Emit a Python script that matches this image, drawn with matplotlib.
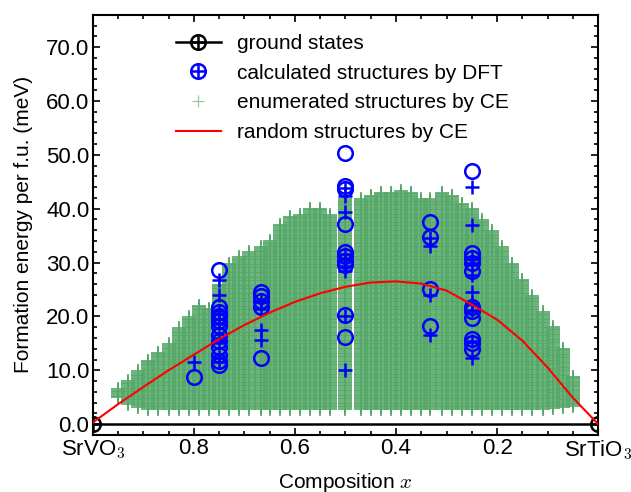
import numpy as np
import matplotlib
matplotlib.use("Agg")
import matplotlib.pyplot as plt
from matplotlib.legend_handler import HandlerTuple

plt.rcParams['font.family'] = ['Liberation Sans', 'DejaVu Sans']
plt.rcParams['mathtext.fontset'] = 'cm'
plt.rcParams['font.size'] = 15

# ground states (end members)
gs_x = [1.0, 0.0]
gs_e = [0.0, 0.0]

# DFT-calculated structures (circles) and their CE values (pluses)
dft_x = [0.8,
         0.75, 0.75, 0.75, 0.75, 0.75, 0.75, 0.75, 0.75, 0.75, 0.75, 0.75, 0.75,
         0.667, 0.667, 0.667, 0.667, 0.667,
         0.5, 0.5, 0.5, 0.5, 0.5, 0.5, 0.5, 0.5, 0.5, 0.5,
         0.333, 0.333, 0.333, 0.333,
         0.25, 0.25, 0.25, 0.25, 0.25, 0.25, 0.25, 0.25, 0.25, 0.25, 0.25]
dft_e = [8.8,
         28.7, 21.7, 20.9, 20.0, 19.2, 18.2, 16.5, 15.5, 14.3, 12.8, 11.8, 10.9,
         24.6, 23.8, 22.8, 21.8, 12.2,
         50.3, 44.3, 43.6, 37.2, 32.0, 31.2, 30.2, 29.5, 20.2, 16.2,
         37.6, 34.8, 25.1, 18.3,
         47.0, 31.8, 30.9, 29.9, 28.4, 21.8, 21.0, 19.7, 15.9, 15.0, 14.0]
fit_x = [0.8,
         0.75, 0.75, 0.75, 0.75, 0.75, 0.75, 0.75, 0.75, 0.75,
         0.667, 0.667, 0.667, 0.667,
         0.5, 0.5, 0.5, 0.5, 0.5, 0.5, 0.5, 0.5, 0.5,
         0.333, 0.333, 0.333, 0.333,
         0.25, 0.25, 0.25, 0.25, 0.25, 0.25, 0.25, 0.25, 0.25, 0.25]
fit_e = [11.6,
         26.8, 23.9, 21.0, 19.5, 18.5, 16.0, 15.0, 12.5, 11.5,
         22.9, 21.4, 17.5, 15.6,
         43.9, 42.3, 39.3, 31.5, 30.5, 29.3, 28.5, 20.0, 10.0,
         34.6, 33.0, 24.0, 16.6,
         44.0, 36.9, 31.0, 29.9, 27.6, 24.5, 22.5, 21.2, 15.4, 12.2]

# enumerated structures by CE: per composition, lowest and highest energy
ce_x = [0.95, 0.93, 0.91, 0.89, 0.87, 0.85, 0.83, 0.81, 0.79, 0.77, 0.75,
        0.73, 0.71, 0.69, 0.667, 0.65, 0.63, 0.61, 0.59, 0.57, 0.55, 0.53,
        0.50, 0.47, 0.45, 0.43, 0.41, 0.39, 0.37, 0.35, 0.333, 0.31, 0.29,
        0.27, 0.25, 0.23, 0.21, 0.19, 0.17, 0.15, 0.13, 0.11, 0.09, 0.07, 0.05]
ce_low = [5.0, 3.8, 3.2, 2.8, 2.8, 2.8, 2.8, 2.8, 2.8, 2.8, 2.8,
          2.8, 2.8, 2.8, 2.8, 2.8, 2.8, 2.8, 2.8, 2.8, 2.8, 2.8,
          2.8, 2.8, 2.8, 2.8, 2.8, 2.8, 2.8, 2.8, 2.8, 2.8, 2.8,
          2.8, 2.8, 2.8, 2.8, 2.8, 2.8, 2.8, 2.8, 2.8, 3.0, 3.2, 3.4]
ce_high = [6.5, 8.0, 10.0, 12.0, 13.5, 15.0, 18.0, 20.0, 22.0, 21.5, 26.0,
           30.0, 31.0, 32.0, 33.0, 34.0, 37.0, 38.5, 39.0, 40.0, 40.0, 39.0,
           42.0, 42.0, 42.5, 43.0, 43.0, 43.5, 43.0, 42.0, 42.0, 43.0, 42.5,
           41.0, 40.0, 38.0, 36.0, 33.0, 30.0, 27.0, 24.0, 21.0, 18.0, 14.0, 9.0]

# random structures by CE
rnd_x = [1.0, 0.95, 0.9, 0.85, 0.8, 0.75, 0.7, 0.65, 0.6, 0.55, 0.5,
         0.45, 0.4, 0.35, 0.3, 0.25, 0.2, 0.15, 0.1, 0.05, 0.0]
rnd_e = [0.3, 3.7, 6.9, 10.0, 12.9, 15.8, 18.4, 20.7, 22.7, 24.3, 25.5,
         26.3, 26.5, 26.1, 24.8, 22.2, 19.4, 15.5, 10.5, 4.9, 0.0]

fig = plt.figure(figsize=(6.31, 4.92), dpi=100)
ax = fig.add_axes([0.147, 0.116, 0.801, 0.854])

h_gs_line, = ax.plot(gs_x, gs_e, '-', color='black', lw=1.8, zorder=3)
h_gs_o, = ax.plot(gs_x, gs_e, 'o', mfc='none', mec='black', ms=10.5, mew=1.8, zorder=4)
h_gs_p, = ax.plot(gs_x, gs_e, '+', color='black', ms=10.5, mew=1.8, zorder=4)

h_dft_o, = ax.plot(dft_x, dft_e, 'o', mfc='none', mec='blue', ms=10.5, mew=1.8, ls='none', zorder=5)
h_dft_p, = ax.plot(fit_x, fit_e, '+', color='blue', ms=10.5, mew=1.8, ls='none', zorder=5)

# each composition column of enumerated structures
for x, lo, hi in zip(ce_x, ce_low, ce_high):
    ee = np.arange(lo, hi + 0.01, 0.3)
    ax.plot([x] * len(ee), ee, '+', color='#55a868', alpha=0.95, ms=10, mew=1.3,
            ls='none', zorder=1)
h_ce, = ax.plot([], [], '+', color='#55a868', alpha=0.6, ms=8.5, mew=0.9, ls='none')

h_rnd, = ax.plot(rnd_x, rnd_e, '-', color='red', lw=1.5, zorder=6)

ax.set_xlim(1.0, 0.0)
ax.set_ylim(-2, 76)
ax.set_xticks([1.0, 0.8, 0.6, 0.4, 0.2, 0.0])
ax.set_xticklabels(['SrVO$_3$', '0.8', '0.6', '0.4', '0.2', 'SrTiO$_3$'])
ax.set_xticks(np.arange(0.05, 1.0, 0.05), minor=True)
ax.set_yticks(np.arange(0, 71, 10))
ax.set_yticklabels(['%.1f' % v for v in np.arange(0, 71, 10)])
ax.set_yticks(np.arange(0, 76, 2), minor=True)
ax.tick_params(which='both', direction='in', top=True, right=True, width=1.2,
               labelsize=16)
ax.tick_params(which='major', length=5, pad=2.5)
ax.tick_params(which='minor', length=3)
for s in ax.spines.values():
    s.set_linewidth(1.5)

ax.set_xlabel('Composition $x$', fontsize=15, labelpad=6)
ax.set_ylabel('Formation energy per f.u. (meV)', fontsize=15, labelpad=9)

ax.legend([(h_gs_line, h_gs_o, h_gs_p), (h_dft_o, h_dft_p), h_ce, h_rnd],
          ['ground states', 'calculated structures by DFT',
           'enumerated structures by CE', 'random structures by CE'],
          handler_map={tuple: HandlerTuple(ndivide=1)},
          loc='upper left', bbox_to_anchor=(0.164, 0.954), frameon=False,
          borderpad=0, borderaxespad=0, handlelength=2.16, handletextpad=0.77,
          labelspacing=0.51, fontsize=15)

fig.savefig('out.png', dpi=100)
